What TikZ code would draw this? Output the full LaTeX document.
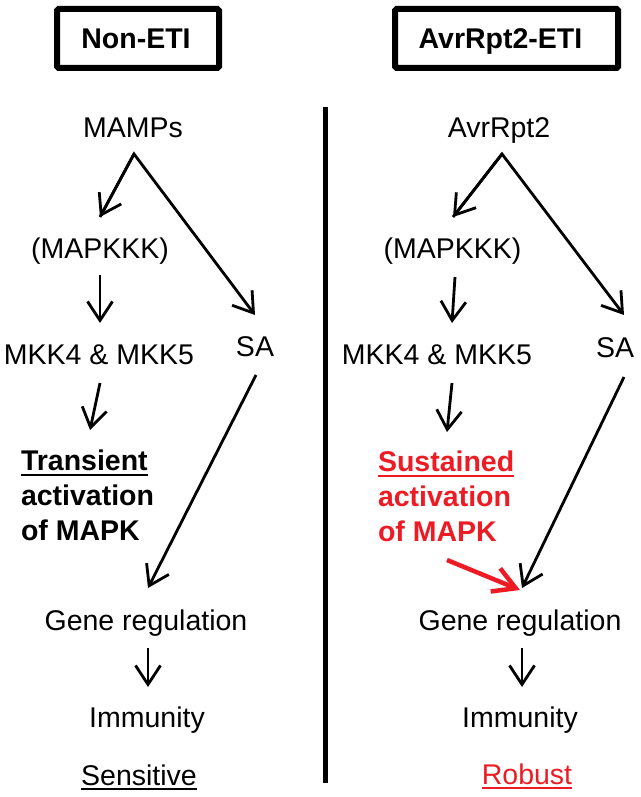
\documentclass[tikz,border=0pt]{standalone}
\usepackage{fontspec}
\setmainfont{Liberation Sans}
\usetikzlibrary{arrows.meta}
\definecolor{myred}{RGB}{237,28,36}
\begin{document}
\begin{tikzpicture}[x=1pt,y=-1pt,
  every node/.style={inner sep=0pt, outer sep=0pt},
  txt/.style={anchor=base, font=\fontsize{28.5}{34}\selectfont},
  btxt/.style={anchor=base west, font=\fontsize{28.5}{34}\selectfont\bfseries},
  hdrbox/.style={draw, line width=6pt, minimum height=59pt, rounded corners=1.5pt},
  arr/.style={line width=2.8pt, -{Straight Barb[length=19pt,width=25pt]}},
  redarr/.style={line width=4.5pt, myred, -{Straight Barb[length=22pt,width=25pt]}},
  uline/.style={line width=2pt}]
\useasboundingbox (0,0) rectangle (640,797);
% headers
\node[hdrbox, minimum width=162pt] (boxL) at (138,38.5) {};
\node[txt, font=\fontsize{28.5}{34}\selectfont\bfseries] (hdrL) at (136,49) {Non-ETI};
\node[hdrbox, minimum width=223pt] (boxR) at (506.5,38.5) {};
\node[txt, font=\fontsize{28.5}{34}\selectfont\bfseries] (hdrR) at (500.5,49) {AvrRpt2-ETI};
% divider
\coordinate (divT) at (325,107);
\coordinate (divB) at (325,783);
\draw[line width=5pt] (divT) -- (divB);
% left column
\node[txt] (mamps) at (133,137) {MAMPs};
\node[txt] (mapL) at (100,258) {(MAPKKK)};
\node[txt] (mkkL) at (99,364) {MKK4 \& MKK5};
\node[txt] (saL) at (255,356) {SA};
\node[btxt] (trL1) at (21,470) {Transient};
\node[btxt] (trL2) at (21,505) {activation};
\node[btxt] (trL3) at (21,540) {of MAPK};
\draw[uline] ([yshift=-5pt]trL1.base west) -- ([yshift=-5pt]trL1.base east);
\node[txt] (geneL) at (146,630) {Gene regulation};
\node[txt] (immL) at (147,727) {Immunity};
\node[txt] (sensL) at (139,785) {Sensitive};
\draw[uline] ([yshift=-4pt]sensL.base west) -- ([yshift=-4pt]sensL.base east);
% right column
\node[txt] (avr) at (499,137) {AvrRpt2};
\node[txt] (mapR) at (452.5,258) {(MAPKKK)};
\node[txt] (mkkR) at (437,364) {MKK4 \& MKK5};
\node[txt] (saR) at (615,357) {SA};
\node[btxt, text=myred] (suR1) at (378,471) {Sustained};
\node[btxt, text=myred] (suR2) at (378,506) {activation};
\node[btxt, text=myred] (suR3) at (378,541) {of MAPK};
\draw[uline, myred] ([yshift=-5pt]suR1.base west) -- ([yshift=-5pt]suR1.base east);
\node[txt] (geneR) at (520,630) {Gene regulation};
\node[txt] (immR) at (520,727) {Immunity};
\node[txt, text=myred] (robR) at (527,784) {Robust};
\draw[uline, myred] ([yshift=-4pt]robR.base west) -- ([yshift=-4pt]robR.base east);
% left connectors
\coordinate (apexL) at (134,154);
\coordinate (mapLt) at (100,217);
\coordinate (saLt) at (255,315);
\coordinate (mapLb) at (100,275);
\coordinate (mkkLt) at (100,323);
\coordinate (mkkLb) at (100,383);
\coordinate (trLt) at (90,430);
\coordinate (saLb) at (256,375);
\coordinate (geneLt) at (148,588);
\coordinate (geneLb) at (148,648);
\coordinate (immLt) at (148,687);
\draw[arr, line join=miter] (mapLt) -- (apexL) -- (saLt);
\draw[arr] (apexL) -- (mapLt);
\draw[arr] (mapLb) -- (mkkLt);
\draw[arr] (mkkLb) -- (trLt);
\draw[arr] (saLb) -- (geneLt);
\draw[arr] (geneLb) -- (immLt);
% right connectors
\coordinate (apexR) at (502,154);
\coordinate (mapRt) at (453,217);
\coordinate (saRt) at (624,315);
\coordinate (mapRb) at (455,277);
\coordinate (mkkRt) at (452,323);
\coordinate (mkkRb) at (452,383);
\coordinate (suRt) at (447,432);
\coordinate (saRb) at (624,377);
\coordinate (geneRt) at (522,588);
\coordinate (redS) at (447,560);
\coordinate (redT) at (520,590);
\coordinate (geneRb) at (522,648);
\coordinate (immRt) at (522,687);
\draw[arr, line join=miter] (mapRt) -- (apexR) -- (saRt);
\draw[arr] (apexR) -- (mapRt);
\draw[arr] (mapRb) -- (mkkRt);
\draw[arr] (mkkRb) -- (suRt);
\draw[arr] (saRb) -- (geneRt);
\draw[redarr] (redS) -- (redT);
\draw[arr] (geneRb) -- (immRt);
\end{tikzpicture}
\end{document}
